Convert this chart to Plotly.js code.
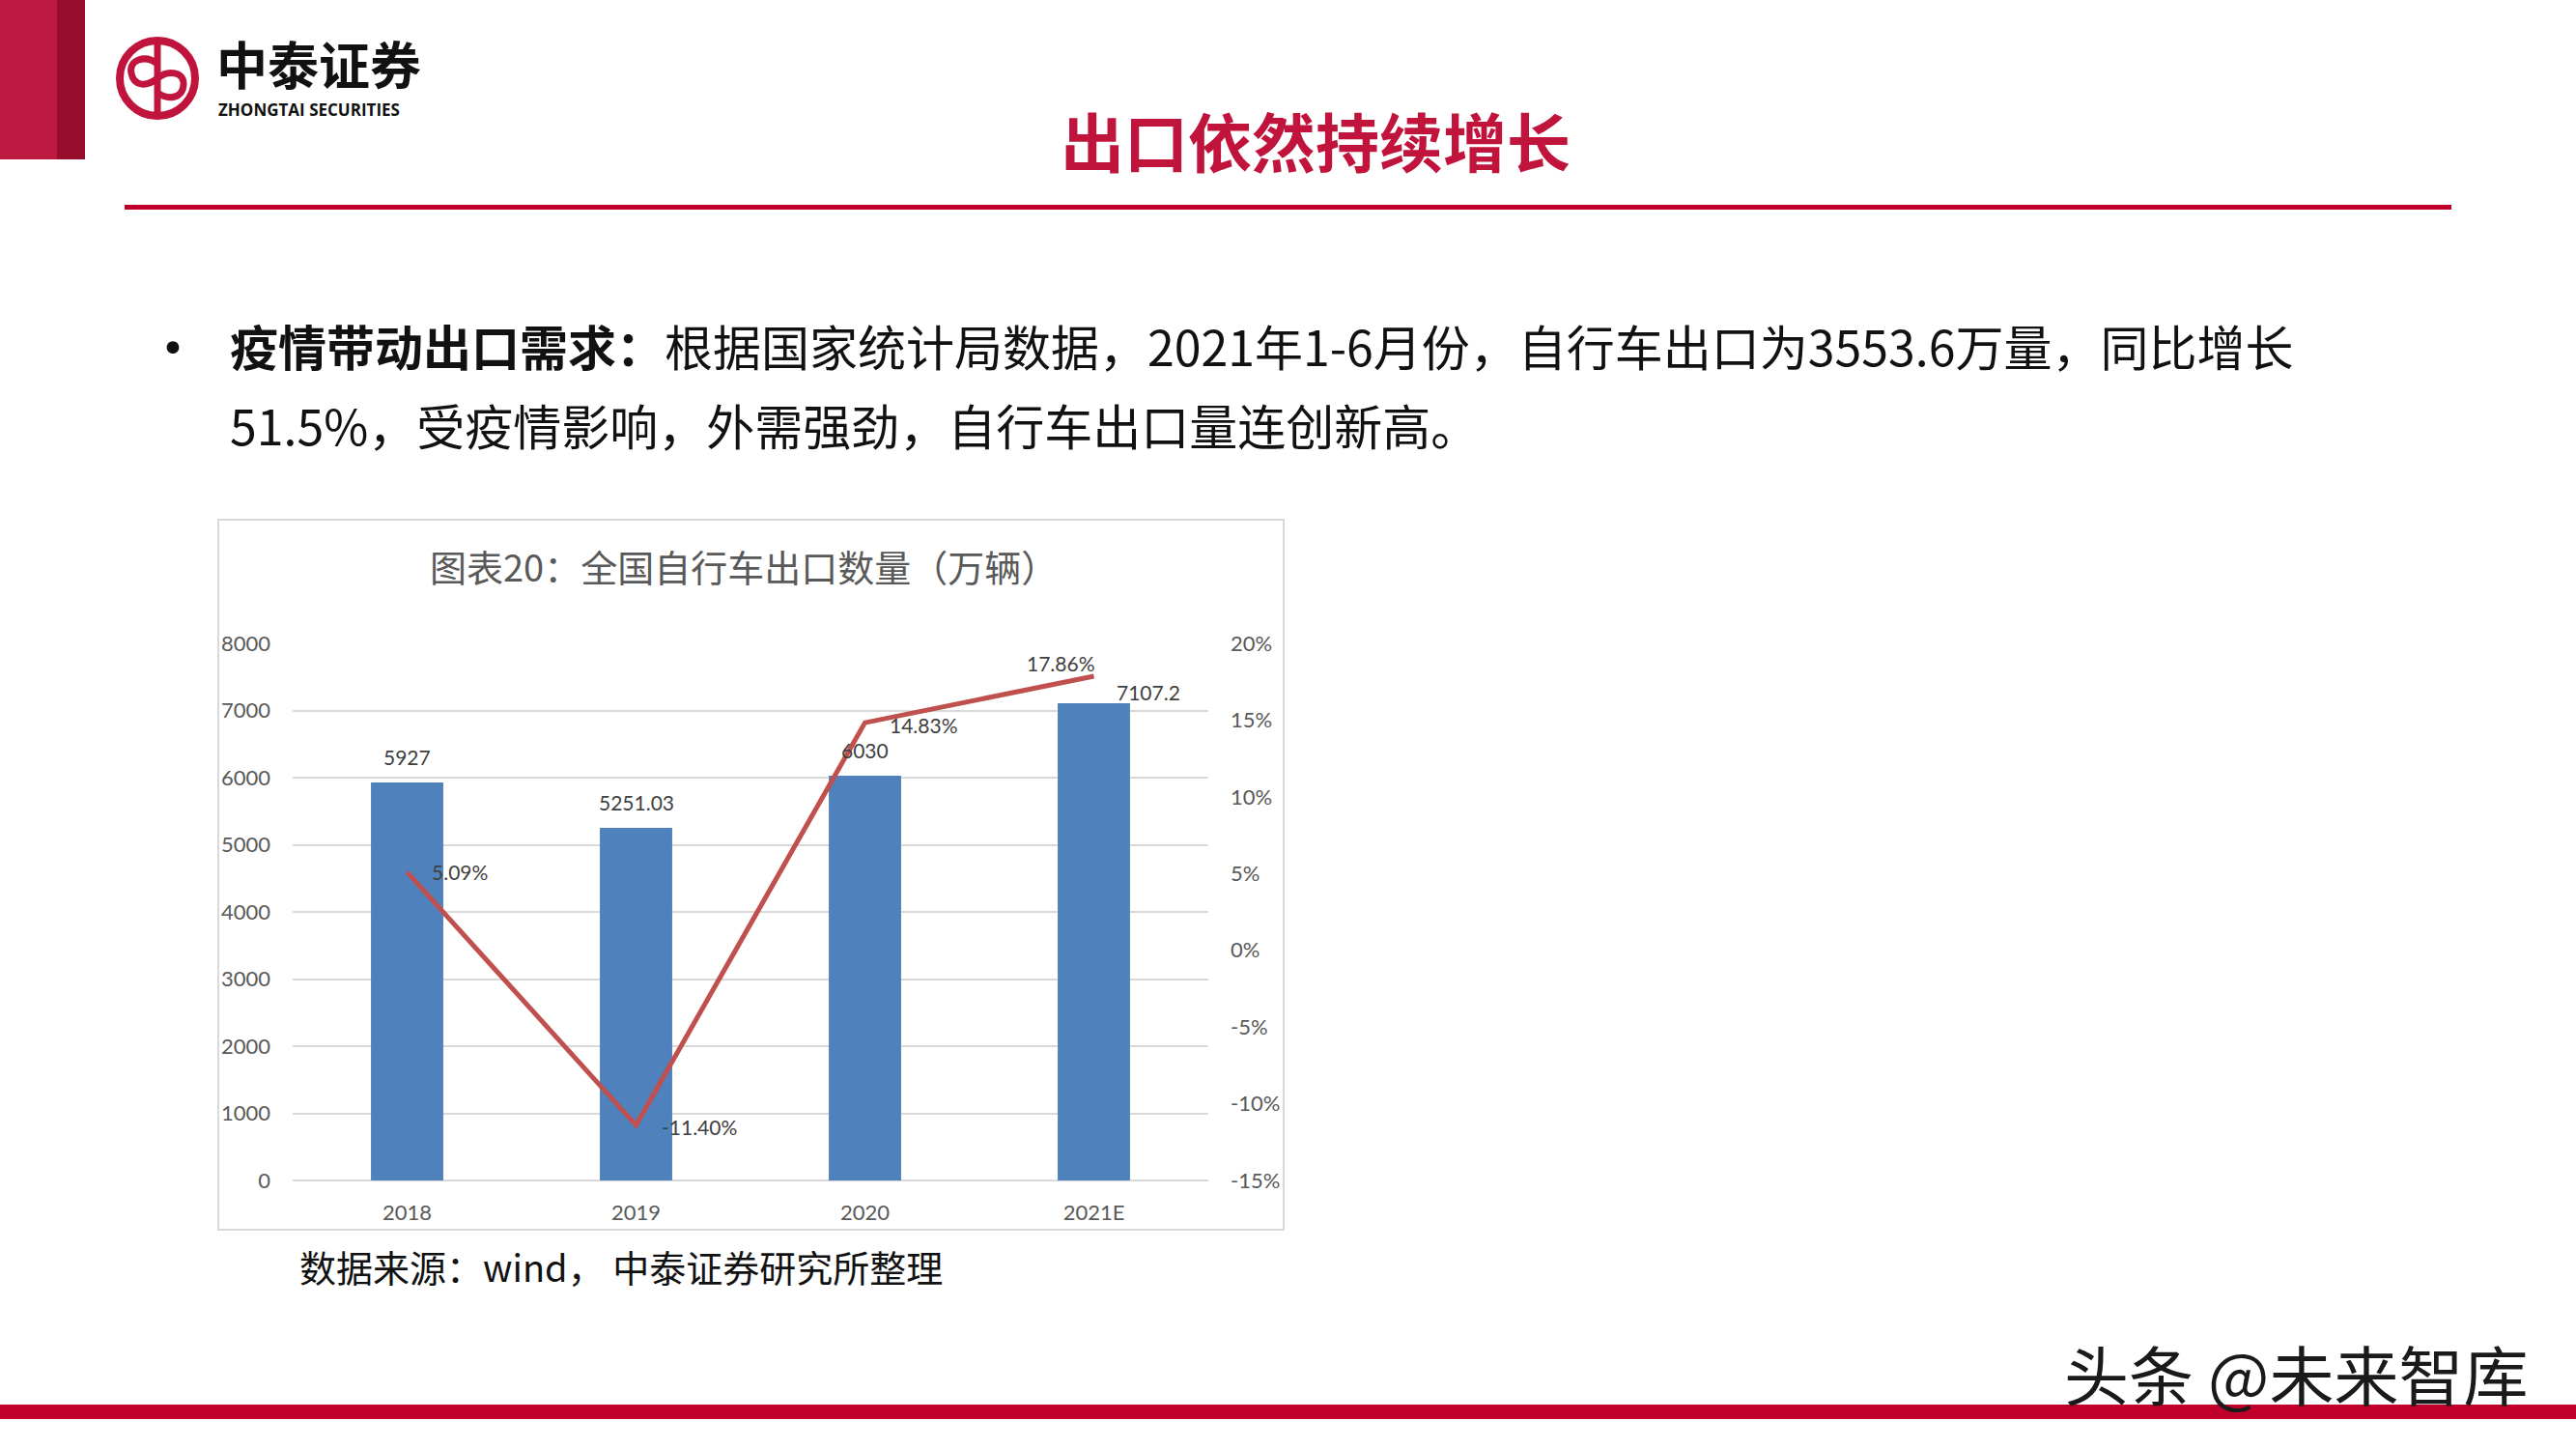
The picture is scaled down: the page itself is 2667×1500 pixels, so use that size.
<!DOCTYPE html>
<html>
<head>
<meta charset="utf-8">
<script src="https://cdn.plot.ly/plotly-3.0.1.min.js"></script>
<style>
  html, body { margin: 0; padding: 0; background: #ffffff; }
  #chart { width: 2667px; height: 1500px; }
</style>
</head>
<body>
<div id="chart"></div>
<script>
// ---- data ----
const years = ['2018', '2019', '2020', '2021E'];
const exports = [5927, 5251.03, 6030, 7107.2];          // 万辆
const growth = [5.09, -11.40, 14.83, 17.86];             // %
const rightTickVals = [-15, -10, -5, 0, 5, 10, 15, 20];
const rightTickText = ['-15%', '-10%', '-5%', '0%', '5%', '10%', '15%', '20%'];
const chartTitle = '图表20：全国自行车出口数量（万辆）';
const pageTitle = '出口依然持续增长';
const bulletBold = '疫情带动出口需求：';
const bulletLine1 = '根据国家统计局数据，2021年1-6月份，自行车出口为3553.6万量，同比增长';
const bulletLine2 = '51.5%，受疫情影响，外需强劲，自行车出口量连创新高。';
const sourceText = '数据来源：wind， 中泰证券研究所整理';
const brandCn = '中泰证券';
const brandEn = 'ZHONGTAI SECURITIES';
const watermark = '头条 @未来智库';

// ---- label offsets (style, pixels) ----
const barLabelShift = [[0, 27], [0, 27], [0, 26], [56, 12]];
const lineLabelShift = [[54, 0], [65, -2], [61, -2], [-34, 14]];

// ---- geometry helpers (page pixels -> paper) ----
const PW = 2667, PH = 1500;
const L = 303, R = 1251, T = 666, B = 1222;
const px = x => (x - L) / (R - L);
const py = y => (B - y) / (B - T);
const P = (x, y) => px(x).toFixed(5) + ',' + py(y).toFixed(5);

const red = '#C0002B';
const shapes = [
  // chart frame
  {type: 'rect', xref: 'paper', yref: 'paper', x0: px(226), x1: px(1329), y0: py(538), y1: py(1273),
   line: {color: '#D9D9D9', width: 2}, fillcolor: 'rgba(0,0,0,0)', layer: 'below'},
  // top-left red blocks
  {type: 'rect', xref: 'paper', yref: 'paper', x0: px(0), x1: px(59), y0: py(0), y1: py(165),
   line: {width: 0}, fillcolor: '#BC1A40'},
  {type: 'rect', xref: 'paper', yref: 'paper', x0: px(59), x1: px(88), y0: py(0), y1: py(165),
   line: {width: 0}, fillcolor: '#970E2D'},
  // title underline
  {type: 'rect', xref: 'paper', yref: 'paper', x0: px(129), x1: px(2538), y0: py(212), y1: py(217),
   line: {width: 0}, fillcolor: red},
  // bottom band
  {type: 'rect', xref: 'paper', yref: 'paper', x0: px(0), x1: px(2667), y0: py(1454), y1: py(1469),
   line: {width: 0}, fillcolor: red},
  // logo ring
  {type: 'circle', xref: 'paper', yref: 'paper', x0: px(124), x1: px(202), y0: py(42), y1: py(120),
   line: {color: '#C0143C', width: 8}, fillcolor: 'rgba(0,0,0,0)'},
  // logo stem
  {type: 'path', xref: 'paper', yref: 'paper', line: {color: '#C0143C', width: 7},
   path: 'M' + P(163, 44) + ' L' + P(163, 118)},
  // logo loops
  {type: 'path', xref: 'paper', yref: 'paper', line: {color: '#C0143C', width: 7},
   path: 'M' + P(163, 66) + ' C' + P(150, 56) + ' ' + P(133, 62) + ' ' + P(136, 76) +
         ' C' + P(139, 90) + ' ' + P(152, 90) + ' ' + P(163, 81) +
         ' C' + P(174, 72) + ' ' + P(191, 74) + ' ' + P(190, 88) +
         ' C' + P(189, 102) + ' ' + P(174, 104) + ' ' + P(163, 96)}
];

const annotations = [];
function pageText(text, x, y, size, color, xanchor, family) {
  annotations.push({xref: 'paper', yref: 'paper', x: px(x), y: py(y), text: text,
    showarrow: false, xanchor: xanchor || 'left', yanchor: 'middle',
    font: {size: size, color: color, family: family || '"Noto Sans CJK SC", sans-serif'}});
}
pageText('<b>' + brandCn + '</b>', 222, 65, 53, '#111111');
pageText('<b>' + brandEn + '</b>', 224, 113, 17, '#111111', 'left', '"Open Sans", "Noto Sans", sans-serif');
pageText('<b>' + pageTitle + '</b>', 1362, 144, 66, '#C0143C', 'center');
pageText('•', 179, 357, 60, '#111111', 'center');
pageText('<b>' + bulletBold + '</b>' + bulletLine1, 236, 357, 50, '#111111');
pageText(bulletLine2, 236, 439, 50, '#111111');
pageText(chartTitle, 770, 585, 38, '#595959', 'center');
pageText(sourceText, 308, 1310, 38, '#111111');
pageText(watermark, 2135, 1420, 67, '#1a1a1a');

// data labels (x given as category index on the category axis)
years.forEach((yr, i) => {
  annotations.push({x: i, y: exports[i], xref: 'x', yref: 'y', text: String(exports[i]),
    showarrow: false, xanchor: 'center', yanchor: 'middle',
    xshift: barLabelShift[i][0], yshift: barLabelShift[i][1],
    font: {size: 21, color: '#404040'}});
  annotations.push({x: i, y: growth[i], xref: 'x', yref: 'y2', text: growth[i].toFixed(2) + '%',
    showarrow: false, xanchor: 'center', yanchor: 'middle',
    xshift: lineLabelShift[i][0], yshift: lineLabelShift[i][1],
    font: {size: 21, color: '#404040'}});
});

const traces = [
  {type: 'bar', x: years, y: exports, marker: {color: '#4F81BD'}, hoverinfo: 'skip'},
  {type: 'scatter', mode: 'lines', x: years, y: growth, yaxis: 'y2',
   line: {color: '#C0504D', width: 5}, cliponaxis: false, hoverinfo: 'skip'}
];

const tickFont = {size: 22, color: '#595959', family: 'Lato, "Open Sans", sans-serif'};
const layout = {
  width: PW, height: PH,
  margin: {l: L, r: PW - R, t: T, b: PH - B, pad: 0},
  paper_bgcolor: '#ffffff', plot_bgcolor: '#ffffff',
  showlegend: false,
  bargap: 0.684,
  font: {family: 'Lato, "Noto Sans CJK SC", sans-serif'},
  xaxis: {type: 'category', range: [-0.5, 3.5], tickfont: tickFont, ticks: '', showline: false,
          showgrid: false, zeroline: false, ticklabelstandoff: 18, fixedrange: true},
  yaxis: {range: [0, 8000], dtick: 1000, tick0: 0, tickformat: 'd', tickfont: tickFont,
          gridcolor: '#D9D9D9', gridwidth: 2, zeroline: true, zerolinecolor: '#D9D9D9',
          zerolinewidth: 2, showline: false, ticks: '', ticklabelstandoff: 22, fixedrange: true},
  yaxis2: {range: [-15, 20], tickmode: 'array', tickvals: rightTickVals, ticktext: rightTickText,
           overlaying: 'y', side: 'right',
           tickfont: tickFont, showgrid: false, zeroline: false, showline: false, ticks: '',
           ticklabelstandoff: 22, fixedrange: true},
  shapes: shapes,
  annotations: annotations
};

Plotly.newPlot('chart', traces, layout, {displayModeBar: false, staticPlot: true});
</script>
</body>
</html>
